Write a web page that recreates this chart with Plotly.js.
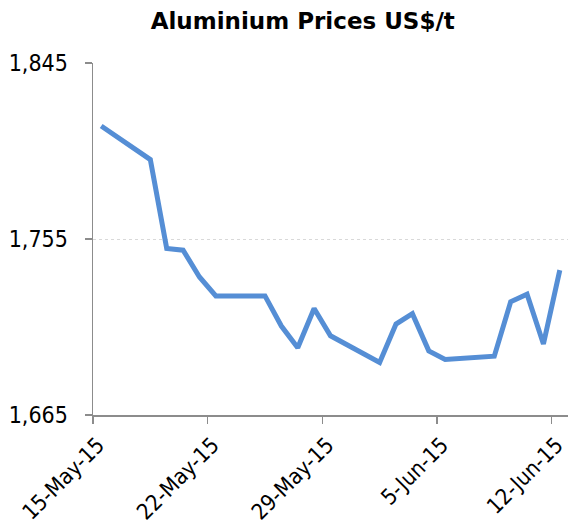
<!DOCTYPE html>
<html>
<head>
<meta charset="utf-8">
<script src="https://cdn.plot.ly/plotly-3.0.1.min.js"></script>
<style>html,body{margin:0;padding:0;background:#fff;}#chart{width:568px;height:530px;}</style>
</head>
<body>
<div id="chart"></div>
<script>
const dates = ['2015-05-15','2015-05-18','2015-05-19','2015-05-20','2015-05-21','2015-05-22',
  '2015-05-25','2015-05-26','2015-05-27','2015-05-28','2015-05-29',
  '2015-06-01','2015-06-02','2015-06-03','2015-06-04','2015-06-05',
  '2015-06-08','2015-06-09','2015-06-10','2015-06-11','2015-06-12'];
const prices = [1812.8,1795.6,1750.2,1749.3,1735.6,1725.9,
  1725.9,1710.5,1699.4,1719.5,1705.5,
  1691.9,1711.5,1716.8,1697.8,1693.4,
  1695.1,1722.9,1726.8,1701.3,1739.1];
const xTicks = ['2015-05-15','2015-05-22','2015-05-29','2015-06-05','2015-06-12'];
const yTicks = [1665,1755,1845];

const tickFont = '"DejaVu Sans Condensed", "Liberation Sans", sans-serif';
const titleFont = '"DejaVu Sans", Verdana, sans-serif';
Plotly.newPlot('chart', [{
  x: dates, y: prices, type: 'scatter', mode: 'lines',
  xperiod: 86400000, xperiodalignment: 'middle',
  line: {color: '#558ED5', width: 5},
  hoverinfo: 'skip'
}], {
  width: 568, height: 530,
  margin: {l: 93, r: 0, t: 63, b: 115},
  paper_bgcolor: '#fff', plot_bgcolor: '#fff',
  showlegend: false,
  title: {text: '<b>Aluminium Prices US$/t</b>', font: {family: titleFont, size: 23, color: '#000'},
    xref: 'container', x: 0.533, xanchor: 'center', yref: 'container', y: 0.96, yanchor: 'middle'},
  xaxis: {
    type: 'date', range: ['2015-05-15', '2015-06-13'],
    tickvals: xTicks, tickformat: '%-d-%b-%y', tickangle: -45,
    ticks: 'outside', ticklen: 7, tickcolor: '#8c8c8c', tickwidth: 1.5,
    showline: true, linecolor: '#8c8c8c', linewidth: 1.5,
    showgrid: false, zeroline: false, ticklabelshift: 5, ticklabeloverflow: 'allow',
    tickfont: {family: tickFont, size: 22, color: '#000'}
  },
  yaxis: {
    range: [1665, 1845], tickvals: yTicks, tickformat: ',d',
    ticks: 'outside', ticklen: 7, tickcolor: '#8c8c8c', tickwidth: 1.5,
    showline: true, linecolor: '#8c8c8c', linewidth: 1.5,
    showgrid: true, gridcolor: '#d9d9d9', griddash: 'dot', gridwidth: 1,
    zeroline: false, ticklabelstandoff: 12,
    tickfont: {family: tickFont, size: 23, color: '#000'}
  }
}, {displayModeBar: false, staticPlot: true});
</script>
</body>
</html>
